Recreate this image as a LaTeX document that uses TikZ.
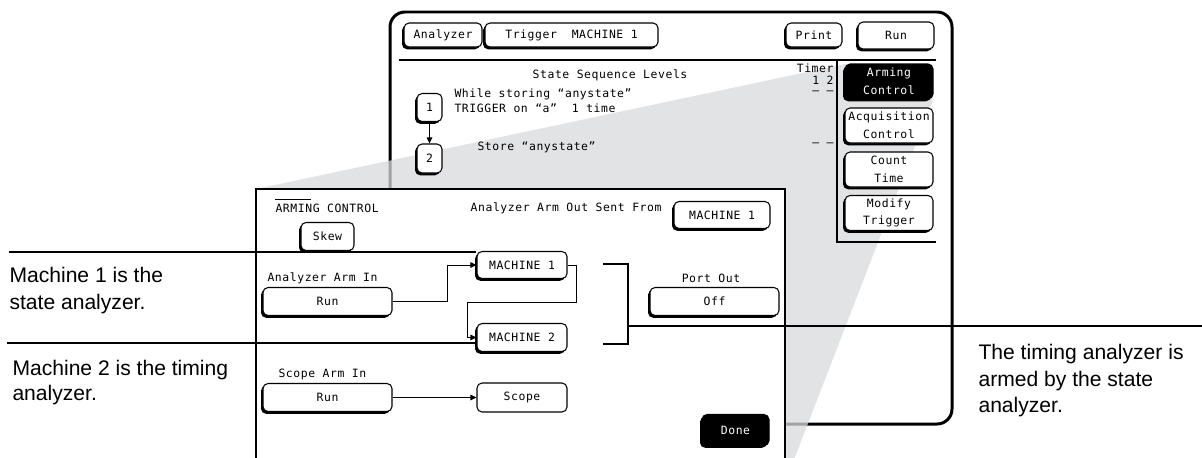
\documentclass[tikz,border=0pt]{standalone}
\usepackage{fontspec}
\setmainfont{Liberation Sans}
\newfontfamily\scrfont{DejaVu Sans Mono}[LetterSpace=5]
\usetikzlibrary{arrows.meta, shadows}
\definecolor{cbeam}{HTML}{D8D9DC}
\tikzset{
  every picture/.style={line width=0.6pt},
  scr/.style={font=\scrfont\fontsize{6.5}{10}\selectfont, inner sep=0pt},
  btn/.style={scr, draw, fill=white, rounded corners=0.1cm, align=center,
    drop shadow={shadow xshift=-0.04cm, shadow yshift=-0.045cm, fill=black, opacity=1}},
  flat/.style={scr, draw, fill=white, rounded corners=0.1cm},
  link/.style={-{Triangle[length=1.2mm, width=1.1mm]}, line width=0.5pt},
  callout/.style={line width=1.1pt},
  note/.style={font=\fontsize{12}{15}\selectfont, align=left, inner sep=0pt, anchor=north west},
}

\begin{document}
\begin{tikzpicture}[x=0.02cm, y=-0.02cm]
  \useasboundingbox (0,0) rectangle (1202,457);
  \clip (0,0) rectangle (1202,457);

  % analyzer screen and the beam out of the Arming Control key
  \draw[line width=1.7pt, rounded corners=0.3cm] (390,12) rectangle (952,424);
  \fill[cbeam, fill opacity=0.75] (256,189) -- (845,64) -- (933,100) -- (790,470) -- (256,470) -- cycle;

  % top row of the screen
  \node[btn, minimum width=1.56cm, minimum height=0.48cm] (anl) at (443,35) {Analyzer};
  \node[btn, minimum width=3.46cm, minimum height=0.48cm] (trg) at (571.5,35) {Trigger\ \ MACHINE 1};
  \node[btn, minimum width=1.12cm, minimum height=0.48cm] (prt) at (814,35) {Print};
  \node[btn, minimum width=1.52cm, minimum height=0.54cm] (run) at (896,35.5) {Run};
  \draw (399,60) -- (936,60);
  \draw (837,60) -- (837,242) -- (936,242);

  \node[scr] (seq) at (610,75) {State Sequence Levels};
  \node[scr, anchor=east] (tmr) at (834,68) {Timer};
  \node[scr, anchor=east] (tmrNum) at (834,80) {1 2};
  \node[scr, anchor=east] (tmrA) at (834,93) {– –};
  \node[scr, anchor=east] (tmrB) at (834,145) {– –};

  % sequence levels
  \node[btn, minimum width=0.5cm, minimum height=0.56cm] (lvlA) at (429.5,107.5) {1};
  \node[btn, minimum width=0.5cm, minimum height=0.58cm] (lvlB) at (429.5,158.5) {2};
  \draw[link] (lvlA) -- (lvlB);
  \node[scr, anchor=west] (lvlAone) at (454,94) {While storing “anystate”};
  \node[scr, anchor=west] (lvlAtwo) at (454,108) {TRIGGER on “a”\ \ 1 time};
  \node[scr, anchor=west] (lvlBone) at (477,147) {Store “anystate”};

  % keys on the right
  \foreach \t/\y/\f/\c [count=\i] in {Arming\\Control/81.5/black/white, Acquisition\\Control/125.5/white/black,
      Count\\Time/169.5/white/black, Modify\\Trigger/213/white/black}
    \node[btn, fill=\f, text=\c, minimum width=1.76cm, minimum height=0.7cm] (key\i) at (889,\y) {\t};

  % arming control panel
  \filldraw[fill=white, line width=1.1pt] (256,470) -- (256,189) -- (785,189) -- (785,470);
  \node[scr, anchor=west] (ttl) at (275,208) {ARMING CONTROL};
  \draw ([yshift=2pt]ttl.north west) -- ++(36,0);
  \node[scr, anchor=east] (sentFrom) at (662,208) {Analyzer Arm Out Sent From};
  \node[btn, minimum width=1.92cm, minimum height=0.54cm] (armOut) at (722,215) {MACHINE 1};
  \node[btn, minimum width=1.06cm, minimum height=0.56cm] (skew) at (327.5,236.5) {Skew};

  \node[scr, anchor=west] (armInLbl) at (267,278) {Analyzer Arm In};
  \node[btn, minimum width=2.58cm, minimum height=0.56cm] (runA) at (327.5,301.5) {Run};
  \node[btn, minimum width=1.8cm, minimum height=0.54cm] (mOne) at (522,265) {MACHINE 1};
  \node[btn, minimum width=1.8cm, minimum height=0.56cm] (mTwo) at (522,337.5) {MACHINE 2};
  \node[scr] (portLbl) at (711,278) {Port Out};
  \node[btn, minimum width=2.58cm, minimum height=0.56cm] (off) at (714.5,301.5) {Off};

  \node[scr, anchor=west] (scopeLbl) at (278,374) {Scope Arm In};
  \node[btn, minimum width=2.58cm, minimum height=0.56cm] (runB) at (327.5,397.5) {Run};
  \node[flat, minimum width=1.8cm, minimum height=0.58cm] (scp) at (522,397.5) {Scope};
  \node[btn, fill=black, text=white, minimum width=1.34cm, minimum height=0.62cm] (done) at (735.5,430) {Done};

  \coordinate (split) at (467,302);
  \draw[link] (runA.east) -- ++(55,0) |- (mOne.west);
  \draw[link] (mOne.east) -- ++(9,0) |- (split) |- (mTwo.west);
  \draw[link] (runB.east) -- (scp.west);

  % callouts
  \coordinate (cOne) at (9,252);
  \coordinate (cTwo) at (7,343);
  \draw[callout] (cOne) -- (cOne -| mOne.west);
  \draw[callout] (cTwo) -- (cTwo -| mTwo.west);
  \coordinate (bTop) at (603,264);
  \coordinate (bBot) at (603,344);
  \coordinate (bMid) at (628,326);
  \coordinate (cThree) at (1202,326);
  \draw[callout] (bTop) -- (bTop -| bMid) -- (bBot -| bMid) -- (bBot);
  \draw[callout] (bMid) -- (cThree);
  \node[note] (noteOne) at (9,267) {Machine 1 is the\\state analyzer.};
  \node[note, font=\fontsize{12}{13.8}\selectfont] (noteTwo) at (12,360) {Machine 2 is the timing\\analyzer.};
  \node[note] (noteThree) at (978,344) {The timing analyzer is\\armed by the state\\analyzer.};
\end{tikzpicture}
\end{document}
